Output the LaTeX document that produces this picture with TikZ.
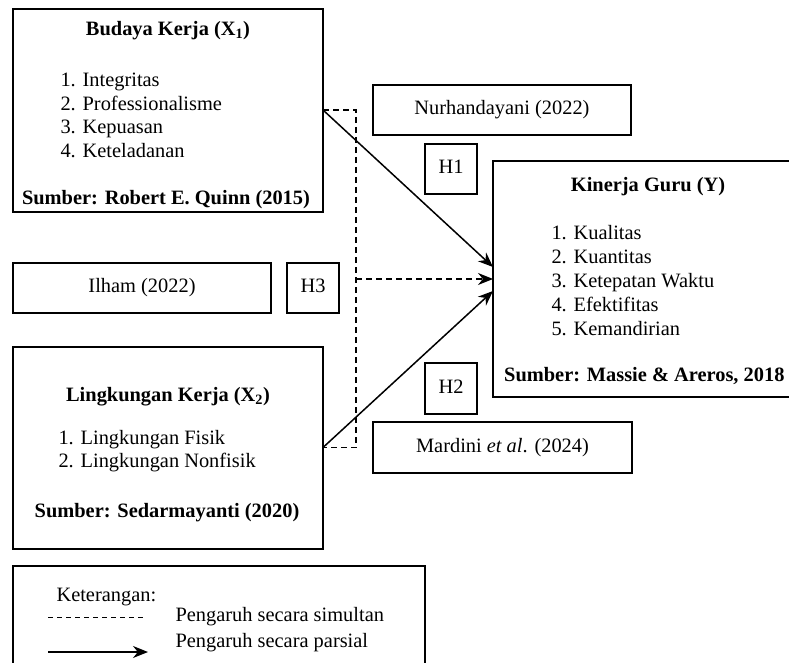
\documentclass[tikz,border=0pt]{standalone}
\usepackage{fontspec}
\setmainfont{Liberation Serif}
\usetikzlibrary{arrows.meta}

\begin{document}
\begin{tikzpicture}[x=1pt,y=1pt,yscale=-1,xscale=1,
  every node/.style={font=\fontsize{20.4}{23.5}\selectfont, text height=14pt, text depth=4.5pt},
  box/.style={draw, line width=1.5pt, outer sep=0pt, inner sep=0pt},
  simul/.style={line width=1.5pt, dash pattern=on 6pt off 4pt},
  tip/.style={-{Stealth[length=15pt,width=12pt]}},
  parsial/.style={line width=1.5pt, tip}]
\clip (0,0) rectangle (789,663);

%Shape: Rectangle [budaya]
\node [box, minimum width=310pt, minimum height=203pt] (budaya) at (168,110.5) {};
% Text Node
\node (budayaT) at (168,31) {\bfseries Budaya Kerja (X\textsubscript{1})};
% Text Node
\node [anchor=west] (budaya1) at (57,82) {1. Integritas};
% Text Node
\node [anchor=west] (budaya2) at (57,105.5) {2. Professionalisme};
% Text Node
\node [anchor=west] (budaya3) at (57,129) {3. Kepuasan};
% Text Node
\node [anchor=west] (budaya4) at (57,153) {4. Keteladanan};
% Text Node
\node (budayaS) at (166,200) {\bfseries Sumber: Robert E. Quinn (2015)};

%Shape: Rectangle [lingkungan]
\node [box, minimum width=310pt, minimum height=202pt] (lingkungan) at (168,448) {};
% Text Node
\node (lingkunganT) at (168,397) {\bfseries Lingkungan Kerja (X\textsubscript{2})};
% Text Node
\node [anchor=west] (lingkungan1) at (55,440) {1. Lingkungan Fisik};
% Text Node
\node [anchor=west] (lingkungan2) at (55,463) {2. Lingkungan Nonfisik};
% Text Node
\node (lingkunganS) at (167,513) {\bfseries Sumber: Sedarmayanti (2020)};

%Shape: Rectangle [kinerja]
\node [box, minimum width=310pt, minimum height=236pt] (kinerja) at (648,279) {};
% Text Node
\node (kinerjaT) at (648,187) {\bfseries Kinerja Guru (Y)};
% Text Node
\node [anchor=west] (kinerja1) at (548,235) {1. Kualitas};
% Text Node
\node [anchor=west] (kinerja2) at (548,259) {2. Kuantitas};
% Text Node
\node [anchor=west] (kinerja3) at (548,283) {3. Ketepatan Waktu};
% Text Node
\node [anchor=west] (kinerja4) at (548,307) {4. Efektifitas};
% Text Node
\node [anchor=west] (kinerja5) at (548,331) {5. Kemandirian};
% Text Node
\node [anchor=east] (kinerjaS) at (788,377) {\bfseries Sumber: Massie \& Areros, 2018};

%Shape: Rectangle [sources and hypotheses]
\node [box, minimum width=258pt, minimum height=50pt] (nurhan) at (502,110) {Nurhandayani (2022)};
\node [box, minimum width=52pt, minimum height=50pt] (h1) at (451,169) {H1};
\node [box, minimum width=52pt, minimum height=51pt] (h2) at (451,388.5) {H2};
\node [box, minimum width=259pt, minimum height=51pt] (mardini) at (502.5,447.5) {Mardini \textit{et al}. (2024)};
\node [box, minimum width=258pt, minimum height=50pt] (ilham) at (142,288) {Ilham (2022)};
\node [box, minimum width=52pt, minimum height=50pt] (h3) at (313,288) {H3};

%Straight Lines [simultan]
\coordinate (jtop) at (356,110);
\coordinate (jbot) at (356,447.5);
\coordinate (jmid) at (356,279);
\draw [simul] (budaya.east |- jtop) -- (jtop) -- (jbot) -- (lingkungan.east |- jbot);
\draw [simul, tip] (jmid) -- (kinerja.west);

%Straight Lines [parsial]
\coordinate (y1) at (493,267);
\coordinate (y2) at (493,291);
\draw [parsial] (budaya.east |- jtop) -- (y1);
\draw [parsial] (lingkungan.east |- jbot) -- (y2);

%Shape: Rectangle [keterangan]
\node [box, minimum width=412pt, minimum height=134pt] (legend) at (219,633) {};
% Text Node
\node [anchor=west] (legendT) at (53,597) {Keterangan:};
\coordinate (kd1) at (48,617);
\coordinate (kd2) at (144,617);
\draw [line width=1pt, dash pattern=on 5pt off 4pt] (kd1) -- (kd2);
% Text Node
\node [anchor=west] (legendS) at (172,617) {Pengaruh secara simultan};
\coordinate (ka1) at (48,652);
\coordinate (ka2) at (148,652);
\draw [parsial] (ka1) -- (ka2);
% Text Node
\node [anchor=west] (legendP) at (172,643) {Pengaruh secara parsial};

\end{tikzpicture}
\end{document}
